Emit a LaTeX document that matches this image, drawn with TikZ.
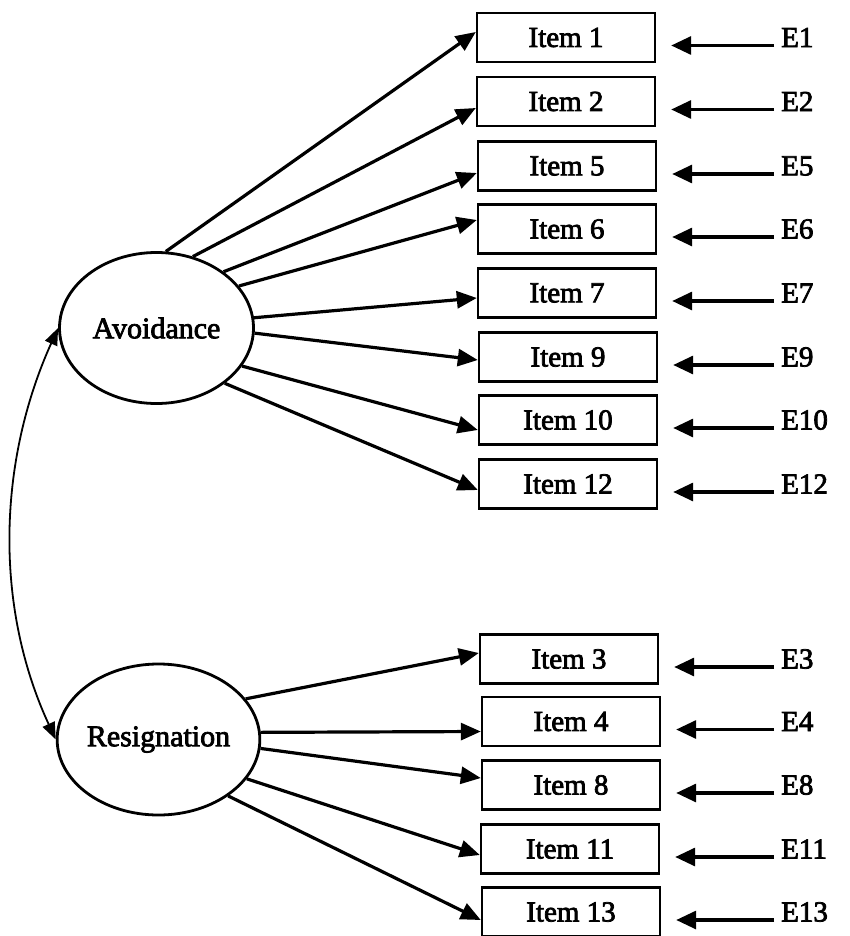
\documentclass[tikz,border=0pt]{standalone}
\usepackage{fontspec}
\setmainfont{Liberation Serif}[FakeBold=2.6]
\usetikzlibrary{arrows.meta,shapes.geometric}
\begin{document}
\begin{tikzpicture}[x=1pt,y=-1pt,
  every node/.style={font=\fontsize{29}{33}\selectfont},
  itembox/.style={draw, line width=2.4pt, minimum width=178pt, minimum height=49pt, inner sep=0pt},
  factor/.style={draw, ellipse, line width=2.8pt, minimum width=194pt, minimum height=151pt, inner sep=0pt,
    font=\fontsize{30}{34}\selectfont},
  errlabel/.style={anchor=west, inner sep=0pt},
  load/.style={line width=3.2pt, -{Triangle[length=20pt,width=17pt]}},
  errarrow/.style={line width=3.2pt, -{Triangle[length=20pt,width=18pt]}},
  cov/.style={line width=1.8pt, {Triangle[length=17pt,width=13pt]}-{Triangle[length=17pt,width=13pt]}}
]
\useasboundingbox (0,0) rectangle (850,936);

% latent factors
\node[factor] (av) at (156.5,328) {Avoidance};
\node[factor] (rs) at (158.5,739.5) {Resignation};

% observed items
\node[itembox] (i1)  at (566,37.5)  {Item 1};
\node[itembox] (i2)  at (566,101.5) {Item 2};
\node[itembox] (i5)  at (567,166)   {Item 5};
\node[itembox] (i6)  at (567,229)   {Item 6};
\node[itembox] (i7)  at (567,293)   {Item 7};
\node[itembox] (i9)  at (568,357)   {Item 9};
\node[itembox] (i10) at (568,420)   {Item 10};
\node[itembox] (i12) at (568,484)   {Item 12};
\node[itembox] (i3)  at (569,659)   {Item 3};
\node[itembox] (i4)  at (571,721.5) {Item 4};
\node[itembox] (i8)  at (571,785)   {Item 8};
\node[itembox] (i11) at (570,849)   {Item 11};
\node[itembox] (i13) at (571,912)   {Item 13};

% error terms
\foreach \n/\y in {1/37.5,2/101.5,5/166,6/229,7/293,9/357,10/420,12/484,3/659,4/721.5,8/785,11/849,13/912}{
  \node[errlabel] (e\n) at (781,\y) {E\n};
  \draw[errarrow] ([shift={(-7pt,-8pt)}]e\n.west) -- ([shift={(15pt,-8pt)}]i\n.east);
}

% loadings of Avoidance
\draw[load] (av.83.5)  -- ([yshift=5.5pt]i1.west);
\draw[load] (av.63.7)  -- ([yshift=-6.5pt]i2.west);
\draw[load] (av.40.6)  -- ([yshift=-7pt]i5.west);
\draw[load] (av.27.2)  -- ([yshift=9pt]i6.west);
\draw[load] (av.6.5)   -- ([yshift=-5pt]i7.west);
\draw[load] (av.-3)    -- ([yshift=-3pt]i9.west);
\draw[load] (av.-24.4) -- ([yshift=-10pt]i10.west);
\draw[load] (av.-39.1) -- ([yshift=-6pt]i12.west);

% loadings of Resignation
\draw[load] (rs.25.9)  -- ([yshift=6pt]i3.west);
\draw[load] (rs.4.4)   -- ([yshift=-10pt]i4.west);
\draw[load] (rs.-5)    -- ([yshift=7pt]i8.west);
\draw[load] (rs.-24.8) -- ([yshift=-6pt]i11.west);
\draw[load] (rs.-39)   -- ([yshift=-8pt]i13.west);

% factor covariance
\draw[cov] (av.west) .. controls +(-60,133) and +(-62,-134) .. (rs.west);
\end{tikzpicture}
\end{document}
